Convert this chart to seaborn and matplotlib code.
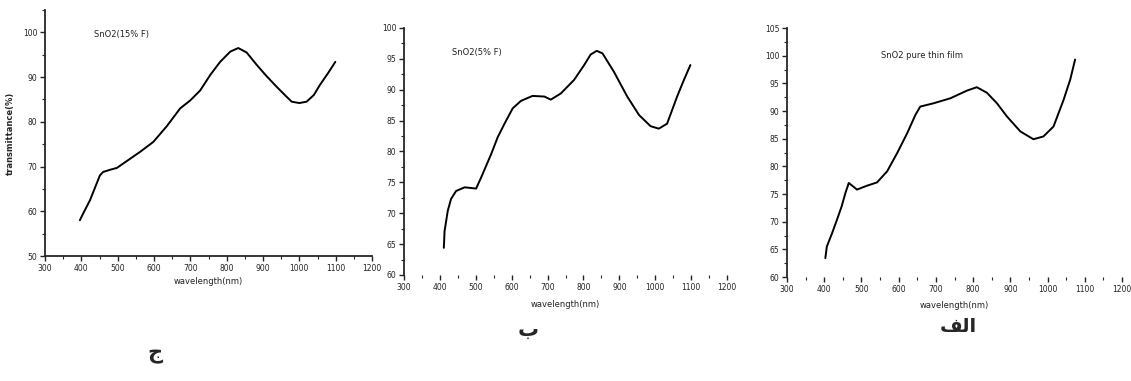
#!/usr/bin/env python
# coding: utf-8

"""
SnO2 薄膜の透過スペクトル（3パネル）を再現するスクリプト
"""

import numpy as np
import pandas as pd
import matplotlib
matplotlib.use("Agg")
import matplotlib.pyplot as plt
from matplotlib.ticker import MultipleLocator
import seaborn as sns

# パネル ج : SnO2(15% F)
wl_c = [396, 405, 424, 451, 460, 480, 498, 530, 562, 598, 635, 672, 700, 727,
        755, 782, 810, 832, 855, 883, 910, 938, 960, 979, 1000, 1020, 1040,
        1057, 1080, 1099]
tr_c = [58.0, 59.5, 62.5, 68.0, 68.8, 69.3, 69.7, 71.5, 73.3, 75.5, 79.0,
        83.0, 84.8, 87.0, 90.5, 93.4, 95.7, 96.5, 95.5, 92.7, 90.2, 87.8,
        86.0, 84.5, 84.2, 84.5, 86.0, 88.3, 91.0, 93.4]

# パネル ب : SnO2(5% F)
wl_b = [411, 413, 422, 431, 445, 469, 501, 515, 543, 561, 580, 603, 626, 658,
        691, 709, 737, 774, 802, 820, 837, 853, 885, 922, 955, 987, 1010,
        1033, 1061, 1080, 1098]
tr_b = [64.4, 67.1, 70.4, 72.3, 73.6, 74.2, 74.0, 75.8, 79.6, 82.3, 84.5,
        87.0, 88.2, 89.0, 88.9, 88.4, 89.4, 91.6, 94.0, 95.7, 96.3, 95.9,
        92.9, 88.9, 85.9, 84.1, 83.7, 84.5, 88.9, 91.6, 94.0]

# パネル الف : SnO2 pure thin film
wl_a = [403, 407, 421, 434, 447, 457, 466, 488, 515, 542, 569, 596, 623, 645,
        658, 694, 739, 784, 810, 837, 864, 891, 927, 962, 989, 1016, 1043,
        1061, 1074]
tr_a = [63.4, 65.5, 67.9, 70.3, 72.8, 75.2, 77.0, 75.8, 76.5, 77.1, 79.1,
        82.4, 86.0, 89.3, 90.8, 91.4, 92.3, 93.7, 94.3, 93.3, 91.4, 89.0,
        86.3, 84.9, 85.4, 87.2, 92.0, 95.7, 99.3]

x_ticks = list(range(300, 1201, 100))

sns.set_style("ticks")
plt.rcParams["font.family"] = ["DejaVu Sans"]

W, H = 1131, 381
fig = plt.figure(figsize=(W / 100, H / 100), dpi=100)


def add_axes(left, right, top, bottom):
    # ピクセル座標からaxesを作る
    return fig.add_axes([left / W, 1 - bottom / H, (right - left) / W, (bottom - top) / H])


def draw_panel(ax, wl, tr, ylim, ystep, note, note_xy, show_bottom, xpad):
    df = pd.DataFrame({"wavelength": wl, "transmittance": tr})
    sns.lineplot(data=df, x="wavelength", y="transmittance", ax=ax,
                 color="black", linewidth=1.4, sort=False)
    ax.set_xlim(300, 1200)
    ax.set_ylim(*ylim)
    ax.set_xticks(x_ticks)
    ax.set_yticks(np.arange(ylim[0], ylim[1] + 0.1, ystep))
    ax.xaxis.set_minor_locator(MultipleLocator(50))
    ax.yaxis.set_minor_locator(MultipleLocator(ystep / 2))
    ax.tick_params(axis="both", which="major", labelsize=5.5, length=3.5,
                   width=1.0, pad=2, colors="#222222")
    ax.tick_params(axis="both", which="minor", length=2, width=0.8)
    for side in ["top", "right"]:
        ax.spines[side].set_visible(False)
    ax.spines["left"].set_linewidth(1.3)
    ax.spines["bottom"].set_linewidth(1.3)
    ax.spines["bottom"].set_visible(show_bottom)
    ax.set_xlabel("wavelength(nm)", fontsize=6, labelpad=xpad, color="#222222")
    ax.set_ylabel("")
    ax.text(note_xy[0], note_xy[1], note, transform=ax.transAxes,
            fontsize=6, color="#222222", va="center")


ax1 = add_axes(45, 372, 10, 256)
draw_panel(ax1, wl_c, tr_c, (50, 105), 10, "SnO2(15% F)", (0.15, 0.9), True, 3)
ax1.set_ylabel("transmittance(%)", fontsize=6, fontweight="bold", labelpad=6)

ax2 = add_axes(404, 727, 28, 275)
draw_panel(ax2, wl_b, tr_b, (60, 100), 5, "SnO2(5% F)", (0.15, 0.9), False, 6)

ax3 = add_axes(787, 1122, 28, 277)
draw_panel(ax3, wl_a, tr_a, (60, 105), 5, "SnO2 pure thin film", (0.28, 0.89), False, 5)

# パネル記号（アラビア文字）
fig.text(155 / W, 1 - 354 / H, "ج", fontsize=15, fontweight="bold", ha="center", va="center")
fig.text(528 / W, 1 - 330 / H, "ب", fontsize=15, fontweight="bold", ha="center", va="center")
fig.text(958 / W, 1 - 326 / H, "\ufed2\ufedf\u0627", fontsize=14, fontweight="bold",
         ha="center", va="center")

fig.savefig("out.png", dpi=100)
plt.close(fig)
